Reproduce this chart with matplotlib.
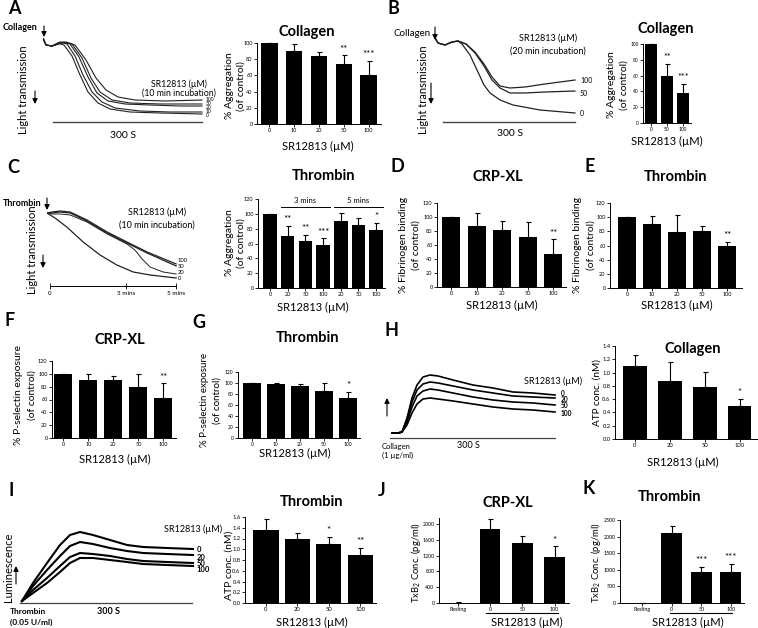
import matplotlib
matplotlib.use("Agg")
import matplotlib.pyplot as plt
import numpy as np
from matplotlib.transforms import Bbox, TransformedBbox

plt.rcParams['font.family'] = ['Lato', 'DejaVu Sans']
plt.rcParams['mathtext.default'] = 'regular'

# ---------------- bar chart data ----------------
a_doses = ["0", "10", "20", "50", "100"]
a_vals = [100, 90, 84, 74, 61]
a_sem = [0, 9, 5, 11, 17]
a_stars = ["", "", "", "**", "***"]

b_doses = ["0", "50", "100"]
b_vals = [100, 59, 38]
b_sem = [0, 16, 12]
b_stars = ["", "**", "***"]

c_doses = ["0", "20", "50", "100", "20", "50", "100"]
c_vals = [100, 70, 64, 58, 91, 85, 78]
c_sem = [0, 14, 8, 9, 10, 10, 10]
c_stars = ["", "**", "**", "***", "", "", "*"]

d_doses = ["0", "10", "20", "50", "100"]
d_vals = [100, 87, 82, 72, 47]
d_sem = [0, 19, 13, 21, 21]
d_stars = ["", "", "", "", "**"]

e_doses = ["0", "10", "20", "50", "100"]
e_vals = [100, 90, 79, 81, 60]
e_sem = [0, 11, 24, 6, 5]
e_stars = ["", "", "", "", "**"]

f_doses = ["0", "10", "20", "50", "100"]
f_vals = [100, 90, 91, 79, 62]
f_sem = [0, 9, 6, 21, 23]
f_stars = ["", "", "", "", "**"]

g_doses = ["0", "10", "20", "50", "100"]
g_vals = [100, 98, 94, 85, 73]
g_sem = [0, 2, 5, 15, 11]
g_stars = ["", "", "", "", "*"]

h_doses = ["0", "20", "50", "100"]
h_vals = [1.10, 0.87, 0.79, 0.50]
h_sem = [0.17, 0.29, 0.22, 0.10]
h_stars = ["", "", "", "*"]

i_doses = ["0", "20", "50", "100"]
i_vals = [1.36, 1.20, 1.09, 0.90]
i_sem = [0.20, 0.10, 0.14, 0.12]
i_stars = ["", "", "*", "**"]

j_doses = ["Resting", "0", "50", "100"]
j_vals = [5, 1880, 1510, 1165]
j_sem = [10, 240, 190, 265]
j_stars = ["", "", "", "*"]

k_doses = ["Resting", "0", "50", "100"]
k_vals = [10, 2110, 930, 930]
k_sem = [5, 210, 160, 240]
k_stars = ["", "", "***", "***"]

# ---------------- trace data (time in s, signal in a.u.) ----------------
a_t0 = [0, 6, 18, 30, 42, 58, 74, 90, 110, 134, 174, 234, 318]
a_v0 = [0, 7, 8, 5, 7, 18, 37, 54, 65, 71, 74, 75, 76]
a_t10 = [0, 6, 18, 34, 48, 64, 80, 98, 118, 144, 194, 254, 318]
a_v10 = [0, 7, 8, 4, 6, 18, 37, 54, 64, 70, 73, 74, 74]
a_t20 = [0, 6, 18, 38, 54, 72, 90, 108, 130, 164, 214, 274, 318]
a_v20 = [0, 7, 8, 4, 6, 19, 39, 55, 63, 66, 67, 68, 68]
a_t50 = [0, 6, 18, 42, 58, 78, 96, 114, 138, 174, 234, 318]
a_v50 = [0, 7, 8, 4, 6, 20, 40, 54, 62, 65, 66, 66]
a_t100 = [0, 6, 18, 46, 64, 86, 106, 126, 150, 184, 244, 318]
a_v100 = [0, 7, 8, 4, 7, 22, 40, 52, 59, 62, 63, 62]
a_labels = ["100", "50", "20", "10", "0"]
a_label_v = [61, 65.5, 69.5, 73.5, 77.5]

b_t = [0, 6, 20, 34, 46, 54, 70, 84, 98, 110, 130, 156, 210, 280]
b_t2 = [0, 6, 20, 34, 46, 62, 80, 98, 114, 130, 150, 180, 220, 280]
b_v0 = [0, 5, 7, 4, 3, 6, 17, 32, 47, 55, 62, 67, 72, 75]
b_v50 = [0, 5, 7, 4, 3, 6, 15, 28, 42, 50, 55, 55, 54, 53]
b_v100 = [0, 5, 7, 4, 3, 6, 14, 26, 39, 48, 50, 49, 46, 42]
b_labels = ["100", "50", "0"]
b_label_v = [42, 55, 75]

c_t0 = [-7, 12, 40, 79, 119, 159, 198, 238, 300]
c_v0 = [0, 5, 14, 29, 42, 52, 59, 62, 65]
c_t = [-7, 5, 24, 48, 88, 136, 183, 231, 300]
c_v100 = [0, -1, -2, -1, 7, 19, 29, 39, 51]
c_v50 = [0, 0, -1, 0, 8, 20, 30, 40, 53]
c_t20 = [-7, 5, 24, 48, 88, 136, 183, 202, 219, 238, 269, 300]
c_v20 = [0, 1, 1, 2, 9, 21, 31, 37, 46, 54, 59, 61]
c_labels = ["100", "50", "20", "0"]
c_label_v = [48, 53, 60, 65]

h_t = [0, 12, 20, 30, 40, 50, 62, 76, 92, 122, 162, 202, 242, 282, 326]
h_v0 = [5, 5, 6, 20, 40, 53, 61, 63, 62, 58, 53, 50, 46, 45, 43]
h_v20 = [5, 5, 6, 18, 36, 48, 54, 56, 55, 52, 48, 45, 42, 41, 40]
h_v50 = [5, 5, 6, 16, 31, 42, 47, 49, 48, 45, 41, 38, 36, 35, 33]
h_v100 = [5, 5, 6, 13, 25, 34, 39, 40, 39, 37, 34, 31, 29, 28, 26]
h_labels = ["0", "20", "50", "100"]
h_label_v = [44, 38.5, 32, 25]

i_t = [0, 22, 50, 76, 96, 116, 142, 176, 210, 242, 290, 342]
i_v0 = [2, 20, 40, 58, 68, 71, 68, 63, 58, 56, 55, 54]
i_v20 = [2, 17, 33, 47, 57, 61, 59, 55, 52, 50, 49, 48]
i_v50 = [2, 13, 25, 37, 46, 50, 49, 47, 44, 42, 41, 40]
i_v100 = [2, 10, 20, 31, 40, 45, 45, 43, 41, 39, 38, 37]
i_labels = ["0", "20", "50", "100"]
i_label_v = [53, 46, 40, 34]

W, H = 758, 628
fig = plt.figure(figsize=(W / 100, H / 100), dpi=100)


def frame(l, t, r, b):
    return fig.add_axes([l / W, 1 - b / H, (r - l) / W, (b - t) / H])


def txt(x, y, s, size=8, weight='normal', ha='center', va='center', rot=0):
    return fig.text(x / W, 1 - y / H, s, fontsize=size, fontweight=weight,
                    ha=ha, va=va, rotation=rot)


def arrow(x, y0, y1, lw=0.8):
    fig.add_artist(matplotlib.patches.FancyArrowPatch(
        (x / W, 1 - y0 / H), (x / W, 1 - y1 / H), transform=fig.transFigure,
        arrowstyle='-|>,head_length=3,head_width=1.5', mutation_scale=1,
        shrinkA=0, shrinkB=0, lw=lw, color='black'))


def bars(ax, doses, vals, sem, stars, ylim, yticks, xlim, width=0.7,
         tsize=4, fmt=None, star_size=7, star_off=0.02):
    x = np.arange(len(vals))
    ax.bar(x, vals, width=width, color='black', zorder=2)
    ax.errorbar(x, vals, yerr=[np.zeros(len(vals)), sem], fmt='none',
                ecolor='black', elinewidth=0.8, capsize=1.8, capthick=0.8,
                clip_on=False, zorder=1)
    ax.set_xlim(*xlim)
    ax.set_ylim(*ylim)
    ax.set_xticks(x)
    ax.set_xticklabels(doses)
    ax.set_yticks(yticks)
    if fmt:
        ax.set_yticklabels([fmt.format(v) for v in yticks])
    for s in ['top', 'right']:
        ax.spines[s].set_visible(False)
    for s in ['left', 'bottom']:
        ax.spines[s].set_linewidth(0.7)
    ax.tick_params(labelsize=tsize, length=2, width=0.6, pad=1.2)
    span = ylim[1] - ylim[0]
    for xi, v, e, st in zip(x, vals, sem, stars):
        if st:
            ax.text(xi, v + e + star_off * span, st, ha='center', va='bottom',
                    fontsize=star_size)


def trace_ax(ax):
    ax.axis('off')


# ================= A =================
txt(8, 8, "A", 13, 'bold', ha='left')
ax = frame(43, 38, 208, 122)
for t, v in [(a_t0, a_v0), (a_t10, a_v10), (a_t20, a_v20), (a_t50, a_v50), (a_t100, a_v100)]:
    ax.plot(t, v, color='#222222', lw=0.8)
for s, v in zip(a_labels, a_label_v):
    ax.text(326, v, s, fontsize=3.6, ha='left', va='center')
ax.plot([20, 318], [84, 84], color='#444444', lw=1.0, clip_on=False)
ax.set_xlim(0, 330)
ax.set_ylim(84, 0)
trace_ax(ax)
txt(123, 136, "300 S", 7.5)
txt(179, 84, "SR12813 (µM)", 6.3)
txt(179, 93, "(10 min incubation)", 6.3)
txt(3, 28, "Collagen", 6.5, 'bold', ha='left')
arrow(44, 26, 37)
txt(24, 90, "Light transmission", 8, rot=90)
arrow(35, 91, 104)

ax = frame(257, 43, 381, 124)
bars(ax, a_doses, a_vals, a_sem, a_stars, (0, 100), range(0, 101, 20), (-0.5, 4.5), width=0.66)
txt(307, 32, "Collagen", 10.5, 'bold')
txt(229, 86, "% Aggregation", 7.5, rot=90)
txt(241, 86, "(of control)", 7.5, rot=90)
txt(318, 146, "SR12813 (µM)", 8)

# ================= B =================
txt(387, 8, "B", 13, 'bold', ha='left')
ax = frame(435, 38, 590, 122)
ax.plot(b_t, b_v0, color='#222222', lw=0.9)
ax.plot(b_t2, b_v50, color='#222222', lw=0.9)
ax.plot(b_t2, b_v100, color='#222222', lw=0.9)
for s, v in zip(b_labels, b_label_v):
    ax.text(290, v, s, fontsize=5, ha='left', va='center')
ax.plot([16, 280], [84, 84], color='#444444', lw=1.0, clip_on=False)
ax.set_xlim(0, 310)
ax.set_ylim(84, 0)
trace_ax(ax)
txt(510, 133, "300 S", 7.5)
txt(548, 38, "SR12813 (µM)", 6.5)
txt(548, 51, "(20 min incubation)", 6.5)
txt(393, 33, "Collagen", 7, ha='left')
arrow(435, 27, 40)
txt(423, 90, "Light transmission", 8, rot=90)
arrow(431, 83, 104)

ax = frame(643, 44, 691, 123)
bars(ax, b_doses, b_vals, b_sem, b_stars, (0, 100), range(0, 101, 20), (-0.5, 2.5),
     width=0.7, tsize=3.5, star_size=6.5)
txt(666, 29, "Collagen", 10.5, 'bold')
txt(611, 85, "% Aggregation", 7.5, rot=90)
txt(624, 85, "(of control)", 7.5, rot=90)
txt(667, 141, "SR12813 (µM)", 8)

# ================= C =================
txt(7, 168, "C", 13, 'bold', ha='left')
ax = frame(47, 200, 185, 286)
ax.plot(c_t0, c_v0, color='#222222', lw=0.9)
ax.plot(c_t, c_v100, color='#222222', lw=0.9)
ax.plot(c_t, c_v50, color='#222222', lw=0.9)
ax.plot(c_t20, c_v20, color='#222222', lw=0.7)
for s, v in zip(c_labels, c_label_v):
    ax.text(303, v, s, fontsize=4.2, ha='left', va='center')
ax.set_xlim(-7, 321)
ax.set_ylim(73, -13)
for s in ['top', 'right', 'left']:
    ax.spines[s].set_visible(False)
ax.spines['bottom'].set_bounds(0, 300)
ax.spines['bottom'].set_linewidth(0.7)
ax.set_yticks([])
ax.set_xticks([0, 180, 300])
ax.set_xticklabels(["0", "3 mins", "5 mins"])
ax.tick_params(axis='x', direction='inout', length=4, width=0.6, labelsize=4.5, pad=1.5)
txt(157, 212, "SR12813 (µM)", 6.5)
txt(157, 225, "(10 min incubation)", 6.5)
txt(3, 203, "Thrombin", 6.5, 'bold', ha='left')
arrow(47, 198, 210)
txt(32, 250, "Light transmission", 8, rot=90)
arrow(43, 255, 268)

ax = frame(258, 199, 385, 288)
bars(ax, c_doses, c_vals, c_sem, c_stars, (0, 120), range(0, 121, 20), (-0.68, 6.5), width=0.76)
ax.plot([0.6, 3.4], [109, 109], color='black', lw=0.7, clip_on=False)
ax.plot([3.6, 6.4], [109, 109], color='black', lw=0.7, clip_on=False)
ax.text(2, 113, "3 mins", ha='center', va='bottom', fontsize=5.5)
ax.text(5, 113, "5 mins", ha='center', va='bottom', fontsize=5.5)
txt(323, 176, "Thrombin", 10.5, 'bold')
txt(229, 243, "% Aggregation", 7.5, rot=90)
txt(241, 243, "(of control)", 7.5, rot=90)
txt(313, 307, "SR12813 (µM)", 8)

# ================= D =================
txt(390, 167, "D", 13, 'bold', ha='left')
ax = frame(437, 203, 566, 287)
bars(ax, d_doses, d_vals, d_sem, d_stars, (0, 120), range(0, 121, 20), (-0.55, 4.5), width=0.7)
txt(498, 177, "CRP-XL", 10.5, 'bold')
txt(403, 245, "% Fibrinogen binding", 7.5, rot=90)
txt(416, 245, "(of control)", 7.5, rot=90)
txt(502, 305, "SR12813 (µM)", 8)

# ================= E =================
txt(585, 167, "E", 13, 'bold', ha='left')
ax = frame(610, 203, 742, 288)
bars(ax, e_doses, e_vals, e_sem, e_stars, (0, 120), range(0, 121, 20), (-0.68, 4.6), width=0.72)
txt(675, 177, "Thrombin", 10.5, 'bold')
txt(578, 245, "% Fibrinogen binding", 7.5, rot=90)
txt(591, 245, "(of control)", 7.5, rot=90)
txt(677, 305, "SR12813 (µM)", 8)

# ================= F =================
txt(5, 320, "F", 13, 'bold', ha='left')
ax = frame(52, 361, 176, 438)
bars(ax, f_doses, f_vals, f_sem, f_stars, (0, 120), range(0, 121, 20), (-0.45, 4.5), width=0.72)
txt(120, 340, "CRP-XL", 10.5, 'bold')
txt(19, 395, "% P-selectin exposure", 7.5, rot=90)
txt(32, 395, "(of control)", 7.5, rot=90)
txt(115, 459, "SR12813 (µM)", 8)

# ================= G =================
txt(192, 322, "G", 13, 'bold', ha='left')
ax = frame(238, 372, 360, 438)
bars(ax, g_doses, g_vals, g_sem, g_stars, (0, 120), range(0, 121, 20), (-0.58, 4.5), width=0.72,
     tsize=3.6)
txt(307, 338, "Thrombin", 10.5, 'bold')
txt(204, 400, "% P-selectin exposure", 7, rot=90)
txt(217, 400, "(of control)", 7, rot=90)
txt(295, 453, "SR12813 (µM)", 8)

# ================= H =================
txt(384, 330, "H", 13, 'bold', ha='left')
ax = frame(388, 365, 560, 438)
for v in [h_v0, h_v20, h_v50, h_v100]:
    ax.plot(h_t, v, color='black', lw=1.2)
for s, v in zip(h_labels, h_label_v):
    ax.text(338, v, s, fontsize=4.8, ha='left', va='center', fontweight='bold')
ax.plot([-4, 326], [0, 0], color='#444444', lw=0.9, clip_on=False)
ax.set_xlim(-8, 336)
ax.set_ylim(0, 73)
trace_ax(ax)
txt(553, 381, "SR12813 (µM)", 6.5)
lum = txt(376, 390, "Luminescence", 8, rot=90)
lum.set_clip_box(TransformedBbox(Bbox.from_extents(380 / W, 0, 1, 1), fig.transFigure))
lum.set_clip_on(True)
arrow(387, 416, 398)
txt(382, 446, "Collagen", 5.5, ha='left')
txt(382, 455, "(1 µg/ml)", 5.5, ha='left')
txt(468, 445, "300 S", 6.5)

ax = frame(615, 346, 757, 439)
bars(ax, h_doses, h_vals, h_sem, h_stars, (0, 1.4), np.arange(0, 1.41, 0.2), (-0.57, 3.5),
     width=0.68, fmt="{:.1f}", tsize=4.2)
txt(693, 349, "Collagen", 10.5, 'bold')
txt(597, 392, "ATP conc. (nM)", 7.2, rot=90)
txt(683, 462, "SR12813 (µM)", 8)

# ================= I =================
txt(8, 490, "I", 13, 'bold', ha='left')
ax = frame(20, 520, 205, 603)
for v in [i_v0, i_v20, i_v50, i_v100]:
    ax.plot(i_t, v, color='black', lw=1.5)
for s, v in zip(i_labels, i_label_v):
    ax.text(350, v, s, fontsize=5.5, ha='left', va='center', fontweight='bold')
ax.plot([-4, 340], [0, 0], color='#444444', lw=0.9, clip_on=False)
ax.set_xlim(-4, 366)
ax.set_ylim(0, 83)
trace_ax(ax)
txt(193, 529, "SR12813 (µM)", 6.5)
txt(9, 567, "Luminescence", 8, rot=90)
arrow(16, 584, 566)
txt(10, 612, "Thrombin", 6, 'bold', ha='left')
txt(10, 622, "(0.05 U/ml)", 6, 'bold', ha='left')
txt(108, 612, "300 S", 6.5, 'bold')

ax = frame(245, 517, 376, 603)
bars(ax, i_doses, i_vals, i_sem, i_stars, (0, 1.6), np.arange(0, 1.61, 0.2), (-0.67, 3.5),
     width=0.8, fmt="{:.1f}", tsize=4.2)
txt(312, 502, "Thrombin", 10.5, 'bold')
txt(229, 565, "ATP conc. (nM)", 7.5, rot=90)
txt(312, 622, "SR12813 (µM)", 8)

# ================= J =================
txt(378, 490, "J", 13, 'bold', ha='left')
ax = frame(439, 518, 569, 603)
bars(ax, j_doses, j_vals, j_sem, j_stars, (0, 2150), range(0, 2001, 400), (-0.6, 3.45),
     width=0.63, tsize=3.8)
ax.plot([0.85, 3.1], [-0.12, -0.12], color='black', lw=0.8, clip_on=False,
        transform=ax.get_xaxis_transform())
txt(508, 503, "CRP-XL", 10.5, 'bold')
txt(416, 563, "TxB$_2$ Conc. (pg/ml)", 6.8, rot=90)
txt(527, 622, "SR12813 (µM)", 8)

# ================= K =================
txt(582, 488, "K", 13, 'bold', ha='left')
ax = frame(620, 520, 744, 603)
bars(ax, k_doses, k_vals, k_sem, k_stars, (0, 2500), range(0, 2501, 500), (-0.75, 3.45),
     width=0.72, tsize=3.8)
ax.plot([0.95, 3.05], [-0.12, -0.12], color='black', lw=0.8, clip_on=False,
        transform=ax.get_xaxis_transform())
txt(670, 497, "Thrombin", 10.5, 'bold')
txt(596, 563, "TxB$_2$ Conc. (pg/ml)", 6.8, rot=90)
txt(688, 622, "SR12813 (µM)", 8)

fig.savefig("out.png", dpi=100)
